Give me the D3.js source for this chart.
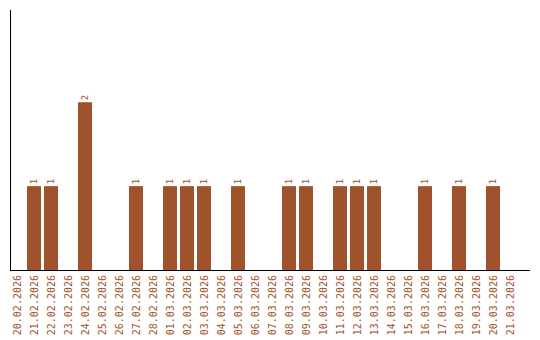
<!DOCTYPE html>
<html>
<head>
<meta charset="utf-8">
<script src="https://cdn.jsdelivr.net/npm/d3@7"></script>
<style>
  body { margin: 0; background: #fff; }
  svg { display: block; }
</style>
</head>
<body>
<svg id="chart" width="540" height="340"></svg>
<script>
// Dates shown on the x axis
var dates = ["20.02.2026","21.02.2026","22.02.2026","23.02.2026","24.02.2026","25.02.2026",
  "26.02.2026","27.02.2026","28.02.2026","01.03.2026","02.03.2026","03.03.2026","04.03.2026",
  "05.03.2026","06.03.2026","07.03.2026","08.03.2026","09.03.2026","10.03.2026","11.03.2026",
  "12.03.2026","13.03.2026","14.03.2026","15.03.2026","16.03.2026","17.03.2026","18.03.2026",
  "19.03.2026","20.03.2026","21.03.2026"];
// Count per day
var counts = [0,1,1,0,2,0,0,1,0,1,1,1,0,1,0,0,1,1,0,1,1,1,0,0,1,0,1,0,1,0];

var data = dates.map(function(d, i) { return {date: d, value: counts[i]}; });

var svg = d3.select("svg#chart");
var color = "#a0522d";
var margin = {left: 10, top: 10, bottom: 270, right: 530};

var x = d3.scaleBand()
  .domain(dates)
  .range([margin.left, margin.left + 17 * dates.length - 3])
  .paddingInner(3 / 17)
  .paddingOuter(0);

var y = d3.scaleLinear()
  .domain([0, 3.1])
  .range([margin.bottom, margin.top]);

var shown = data.filter(function(d) { return d.value > 0; });

// bars
svg.selectAll("rect.bar")
  .data(shown)
  .enter().append("rect")
    .attr("class", "bar")
    .attr("x", function(d) { return x(d.date); })
    .attr("y", function(d) { return y(d.value); })
    .attr("width", x.bandwidth())
    .attr("height", function(d) { return margin.bottom - y(d.value); })
    .style("fill", color);

// value labels above bars
svg.selectAll("text.val")
  .data(shown)
  .enter().append("text")
    .attr("class", "val")
    .attr("transform", function(d) {
      return "translate(" + (x(d.date) + x.bandwidth() / 2) + "," + (y(d.value) - 2) + ") rotate(-90)"; })
    .attr("dy", "0.35em")
    .attr("font-family", "DejaVu Sans Mono")
    .attr("font-size", "9px")
    .attr("fill", color)
    .text(function(d) { return d.value; });

// x axis
var xAxis = svg.append("g")
  .attr("transform", "translate(0," + margin.bottom + ")")
  .call(d3.axisBottom(x).tickSize(0).tickPadding(0));
xAxis.select(".domain").remove();
xAxis.selectAll("text")
  .attr("transform", "rotate(-90)")
  .attr("text-anchor", "end")
  .attr("x", -5)
  .attr("y", 0)
  .attr("dy", "0.35em")
  .attr("font-family", "DejaVu Sans Mono")
  .attr("font-size", "10px")
  .attr("fill", color);

// axis lines
svg.append("line")
  .attr("x1", margin.left + 0.5).attr("x2", margin.left + 0.5)
  .attr("y1", margin.top).attr("y2", margin.bottom)
  .attr("stroke", "#000");
svg.append("line")
  .attr("x1", margin.left).attr("x2", margin.right)
  .attr("y1", margin.bottom + 0.5).attr("y2", margin.bottom + 0.5)
  .attr("stroke", "#000");
</script>
</body>
</html>
